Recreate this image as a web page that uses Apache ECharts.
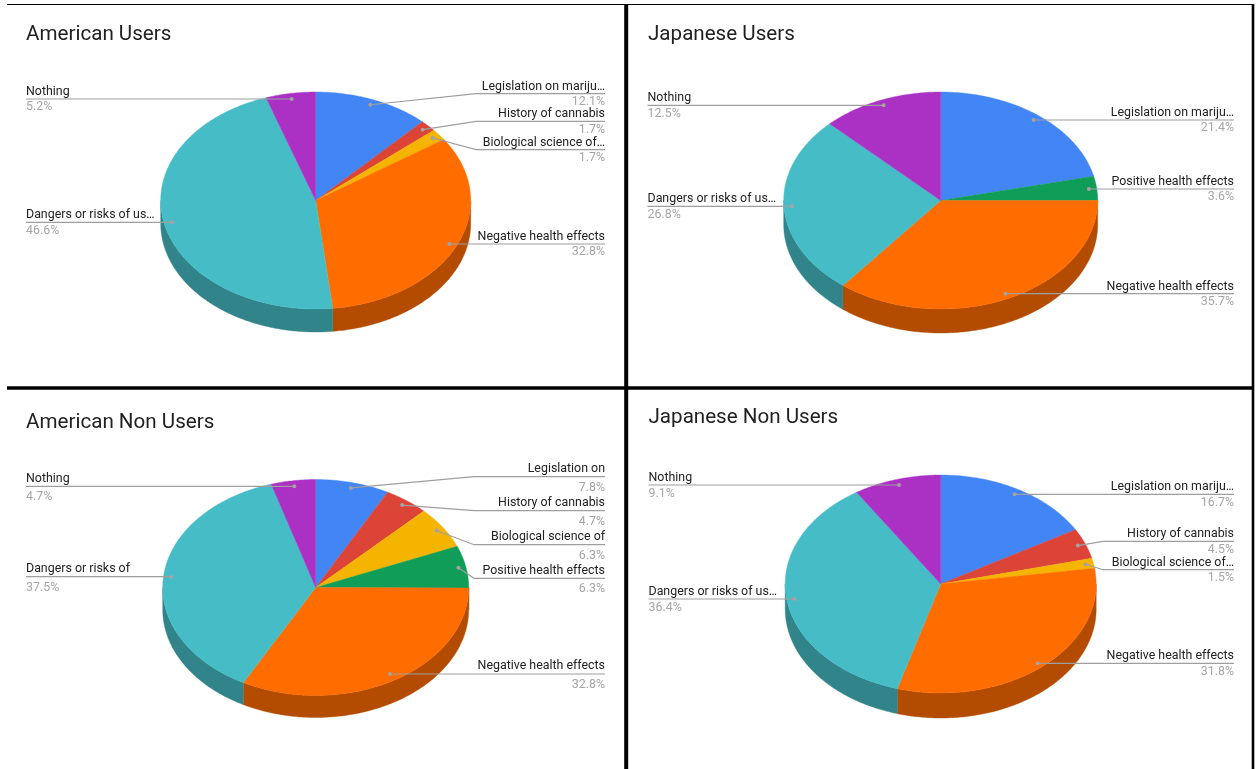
<!DOCTYPE html>
<html>
<head>
<meta charset="utf-8">
<style>html,body{margin:0;padding:0;background:#fff}#c{width:1257px;height:769px}</style>
<script src="https://cdn.jsdelivr.net/npm/echarts@6/dist/echarts.min.js"></script>
</head>
<body>
<div id="c"></div>
<script>
// ---- data: one entry per answer, in the order of the slices ----
const answers = ['Legislation', 'History', 'Biological', 'Positive', 'Negative', 'Dangers', 'Nothing'];
const panelTitles = ['American Users', 'Japanese Users', 'American Non Users', 'Japanese Non Users'];
const americanUsers    = [12.1, 1.7, 1.7, 0,   32.8, 46.6, 5.2];
const japaneseUsers    = [21.4, 0,   0,   3.6, 35.7, 26.8, 12.5];
const americanNonUsers = [7.8,  4.7, 6.3, 6.3, 32.8, 37.5, 4.7];
const japaneseNonUsers = [16.7, 4.5, 1.5, 0,   31.8, 36.4, 9.1];
const namesShort = ['Legislation on mariju…', 'History of cannabis', 'Biological science of…', 'Positive health effects', 'Negative health effects', 'Dangers or risks of us…', 'Nothing'];
const namesFull  = ['Legislation on', 'History of cannabis', 'Biological science of', 'Positive health effects', 'Negative health effects', 'Dangers or risks of', 'Nothing'];
const panelValues = [americanUsers, japaneseUsers, americanNonUsers, japaneseNonUsers];
const panelNames = [namesShort, namesShort, namesFull, namesShort];

// ---- layout and style, kept apart from the data ----
const colors = ['#4285f4', '#db4437', '#f4b400', '#0f9d58', '#ff6d00', '#46bdc6', '#ab30c4'];
const sideColors = ['#2e5dab', '#992f26', '#ab7e00', '#0a6e3e', '#b34c00', '#318489', '#772289'];
const layouts = [
  { cx: 315.7, cy: 200.5, rx: 155, ry: 108.5, depth: 23, left: 26, right: 605, title: [26, 33], up: 7.2, down: 8.4,
    lines: [[93.7, 476], [121.3, 476], [149.7, 476], null, [244, null], [222.3, null], [99, null]] },
  { cx: 940.7, cy: 200.5, rx: 157, ry: 108.5, depth: 24, left: 647.5, right: 1234, title: [648, 33], up: 7.2, down: 8.4,
    lines: [[120, null], null, null, [189, null], [293.7, null], [206.3, null], [105.3, null]] },
  { cx: 315.7, cy: 587.5, rx: 153, ry: 108, depth: 22, left: 26, right: 605, title: [26, 420.5], up: 7.7, down: 10.9,
    lines: [[476.7, 474], [510.7, 474], [544.7, 474], [578.3, 474], [674, null], [576.7, null], [486.3, null]] },
  { cx: 940.7, cy: 584, rx: 155.5, ry: 109, depth: 25, left: 648.5, right: 1234, title: [648.5, 415.5], up: 7.2, down: 8.6,
    lines: [[494.3, null], [541.3, 1103], [569.7, 1103], null, [663.3, null], [599, null], [485, null]] }
];
const dotRadius = 0.95;
const labelFont = '12.4px Roboto';
const rules = [
  [7, 4.5, 1253, 4.5, 1.2], [7, 388, 1253, 388, 3.6],
  [626.2, 4, 626.2, 769, 4], [1253, 4, 1253, 769, 2.6]
];

function squash(p, L) { return [p[0], L.cy + (p[1] - L.cy) * L.ry / L.rx]; }

function slices(values) {
  let from = 0;
  return values.map((v, i) => { const s = [from, from + v, i]; from += v; return s; });
}

function arc(api, L, from, to, r, dy) {
  const n = Math.max(2, Math.ceil((to - from) / 0.2));
  const pts = [];
  for (let k = 0; k <= n; k++) {
    const p = squash(api.coord([r, from + (to - from) * k / n]), L);
    pts.push([p[0], p[1] + dy]);
  }
  return pts;
}

const series = [];
panelValues.forEach((values, pi) => {
  const L = layouts[pi];
  const total = values.reduce((a, b) => a + b, 0);
  const data = slices(values).filter(s => s[1] > s[0]);

  series.push({
    type: 'custom', coordinateSystem: 'polar', polarIndex: pi, z: 2, silent: true, data,
    renderItem(params, api) {
      const a = Math.max(api.value(0), total / 4), b = Math.min(api.value(1), total * 3 / 4);
      if (b <= a) return null;
      const i = api.value(2);
      const top = arc(api, L, a, b, 1, 0), low = arc(api, L, a, b, 1, L.depth).reverse();
      return { type: 'polygon', shape: { points: top.concat(low) },
        style: { fill: sideColors[i], stroke: sideColors[i], lineWidth: 0.4 } };
    }
  });

  series.push({
    type: 'custom', coordinateSystem: 'polar', polarIndex: pi, z: 3, silent: true, data,
    renderItem(params, api) {
      const i = api.value(2);
      const pts = [squash(api.coord([0, 0]), L)].concat(arc(api, L, api.value(0), api.value(1), 1, 0));
      return { type: 'polygon', shape: { points: pts },
        style: { fill: colors[i], stroke: colors[i], lineWidth: 0.4 } };
    }
  });

  series.push({
    type: 'custom', coordinateSystem: 'polar', polarIndex: pi, z: 4, silent: true, data,
    renderItem(params, api) {
      const i = api.value(2), line = L.lines[i];
      const isLeft = i >= 5;
      const lineY = line[0], elbow = line[1];
      const dot = squash(api.coord([dotRadius, (api.value(0) + api.value(1)) / 2]), L);
      const end = isLeft ? L.left : L.right;
      const dotY = elbow === null ? lineY : dot[1];
      const pts = elbow === null ? [[end, lineY], [dot[0], lineY]] : [[end, lineY], [elbow, lineY], [dot[0], dotY]];
      const align = isLeft ? 'left' : 'right';
      return { type: 'group', children: [
        { type: 'polyline', shape: { points: pts }, style: { stroke: '#9e9e9e', lineWidth: 1.2, fill: null } },
        { type: 'circle', shape: { cx: dot[0], cy: dotY, r: 2 }, style: { fill: '#a3a3a3' } },
        { type: 'text', style: { text: panelNames[pi][i], x: end, y: lineY - L.up, align, verticalAlign: 'middle',
            font: labelFont, fill: '#222222' } },
        { type: 'text', style: { text: values[i].toFixed(1) + '%', x: end, y: lineY + L.down, align, verticalAlign: 'middle',
            font: labelFont, fill: '#a6a6a6' } }
      ] };
    }
  });
});

const chart = echarts.init(document.getElementById('c'), null, { renderer: 'canvas' });
chart.setOption({
  animation: false,
  backgroundColor: '#ffffff',
  title: panelTitles.map((t, i) => ({
    text: t, left: layouts[i].title[0], top: layouts[i].title[1] - 10, padding: 0,
    textStyle: { fontFamily: 'Roboto', fontSize: 20.6, fontWeight: 'normal', color: '#212121', lineHeight: 24 }
  })),
  polar: layouts.map(L => ({ center: [L.cx, L.cy], radius: L.rx })),
  angleAxis: panelValues.map((v, i) => ({
    polarIndex: i, type: 'value', min: 0, max: v.reduce((a, b) => a + b, 0), startAngle: 90, clockwise: true, show: false
  })),
  radiusAxis: panelValues.map((v, i) => ({ polarIndex: i, type: 'value', min: 0, max: 1, show: false })),
  graphic: rules.map(r => ({
    type: 'line', silent: true, z: 10, shape: { x1: r[0], y1: r[1], x2: r[2], y2: r[3] },
    style: { stroke: '#000000', lineWidth: r[4] }
  })),
  series
});
</script>
</body>
</html>
